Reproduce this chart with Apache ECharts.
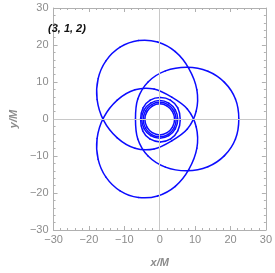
<!DOCTYPE html>
<html><head><meta charset="utf-8">
<script src="https://cdn.jsdelivr.net/npm/echarts@6/dist/echarts.min.js"></script>
<style>html,body{margin:0;padding:0;background:#fff}#c{width:275px;height:273px}</style>
</head><body><div id="c"></div>
<script>
const titleText = '(3, 1, 2)';
const xName = 'x/M';
const yName = 'y/M';
const axisTicks = [-30, -20, -10, 0, 10, 20, 30];

// big leaves (closed loops)
const loopRight = [[22.35,0],[21.4,5.4],[18.3,9.9],[13.6,12.9],[7.75,14.0],[1.6,13.0],[-3.3,10.0],[-6.2,5.4],[-6.85,0],[-6.2,-5.4],[-3.3,-10.0],[1.6,-13.0],[7.75,-14.0],[13.6,-12.9],[18.3,-9.9],[21.4,-5.4]];
const loopUpperLeft = [[-11.2,19.4],[-15.2,15.7],[-17.4,10.9],[-17.7,5.3],[-15.9,-0.3],[-12.0,-5.1],[-7.0,-7.9],[-1.6,-8.1],[3.4,-5.9],[7.8,-2.7],[10.3,2.1],[10.5,7.9],[8.2,13.7],[4.4,18.2],[-0.6,20.8],[-6.0,21.2]];
const loopLowerLeft = [[-11.2,-19.4],[-15.2,-15.7],[-17.4,-10.9],[-17.7,-5.3],[-15.9,0.3],[-12.0,5.1],[-7.0,7.9],[-1.6,8.1],[3.4,5.9],[7.8,2.7],[10.3,-2.1],[10.5,-7.9],[8.2,-13.7],[4.4,-18.2],[-0.6,-20.8],[-6.0,-21.2]];
// whirls near the centre
const whirl1 = [[4.2,-0.1],[3.6,2.0],[2.1,3.5],[0,4.1],[-2.1,3.5],[-3.6,2.0],[-4.2,-0.1],[-3.6,-2.2],[-2.1,-3.7],[0,-4.3],[2.1,-3.7],[3.6,-2.2]];
const whirl2 = [[4.65,-0.15],[4.0,2.2],[2.3,3.9],[0,4.5],[-2.3,3.9],[-4.0,2.2],[-4.65,-0.15],[-4.0,-2.5],[-2.3,-4.2],[0,-4.8],[2.3,-4.2],[4.0,-2.5]];
const whirl3 = [[5.1,-0.1],[4.4,2.45],[2.55,4.3],[0,5.0],[-2.55,4.3],[-4.4,2.45],[-5.1,-0.1],[-4.4,-2.65],[-2.55,-4.5],[0,-5.2],[2.55,-4.5],[4.4,-2.65]];
const whirl4 = [[5.8,-0.2],[5.1,3.0],[3.0,5.1],[0.2,5.8],[-2.7,5.1],[-4.7,3.0],[-5.4,0],[-4.8,-3.2],[-2.8,-5.4],[0.2,-6.2],[3.1,-5.4],[5.1,-3.2]];

const loops = [loopRight, loopUpperLeft, loopLowerLeft, whirl1, whirl2, whirl3, whirl4];

const gray = '#8c8c8c';
const frame = '#b0b0b0';
const orbitColor = '#0c0cff';
const fmt = v => v < 0 ? '\u2212' + Math.abs(v) : String(v);

function mkAxis(pos, showLabel, nameTxt, isY) {
  return {
    type: 'value', min: axisTicks[0], max: axisTicks[axisTicks.length-1], interval: 10,
    position: pos,
    name: showLabel ? nameTxt : '',
    nameLocation: 'middle',
    nameGap: isY ? 30 : 27,
    nameTextStyle: {color: gray, fontStyle: 'italic', fontWeight: 'bold', fontSize: 11, fontFamily: 'Liberation Sans'},
    axisLine: {show: true, onZero: false, lineStyle: {color: frame, width: 1}},
    axisTick: {show: true, inside: true, length: 4, lineStyle: {color: frame}},
    minorTick: {show: true, splitNumber: 5, length: 2, lineStyle: {color: frame}},
    axisLabel: {show: showLabel, color: gray, fontSize: 11, fontFamily: 'Liberation Sans', margin: isY ? 5 : 4, formatter: fmt},
    splitLine: {show: false}
  };
}

// closed Catmull-Rom curve through the read points, one bezier segment per data point
function loopSeries(pts) {
  const n = pts.length;
  return {
    type: 'custom', xAxisIndex: 0, yAxisIndex: 0, z: 3, silent: true,
    data: pts,
    renderItem: function (params, api) {
      const i = params.dataIndex;
      const P = k => api.coord(pts[((k % n) + n) % n]);
      const p0 = P(i - 1), p1 = P(i), p2 = P(i + 1), p3 = P(i + 2);
      return {
        type: 'bezierCurve',
        shape: {
          x1: p1[0], y1: p1[1], x2: p2[0], y2: p2[1],
          cpx1: p1[0] + (p2[0] - p0[0]) / 6, cpy1: p1[1] + (p2[1] - p0[1]) / 6,
          cpx2: p2[0] - (p3[0] - p1[0]) / 6, cpy2: p2[1] - (p3[1] - p1[1]) / 6
        },
        style: {stroke: orbitColor, lineWidth: 1.5, fill: null, lineCap: 'round'}
      };
    }
  };
}

const series = [{
  type: 'line', data: [], xAxisIndex: 0, yAxisIndex: 0,
  markLine: {
    silent: true, symbol: 'none', label: {show: false}, animation: false,
    lineStyle: {color: '#c8c8c8', width: 1, type: 'solid'},
    data: [{xAxis: 0}, {yAxis: 0}]
  }
}].concat(loops.map(loopSeries));

const chart = echarts.init(document.getElementById('c'), null, {renderer: 'canvas'});
chart.setOption({
  animation: false,
  backgroundColor: '#fff',
  grid: {left: 44, right: 7, top: 8, bottom: 41},
  xAxis: [mkAxis('bottom', true, xName, false), mkAxis('top', false, '', false)],
  yAxis: [mkAxis('left', true, yName, true), mkAxis('right', false, '', true)],
  title: {text: titleText, left: 48, top: 23, padding: 0,
    textStyle: {color: '#111', fontSize: 11, fontStyle: 'italic', fontWeight: 'bold', fontFamily: 'Liberation Sans'}},
  series: series
});
</script>
</body></html>
